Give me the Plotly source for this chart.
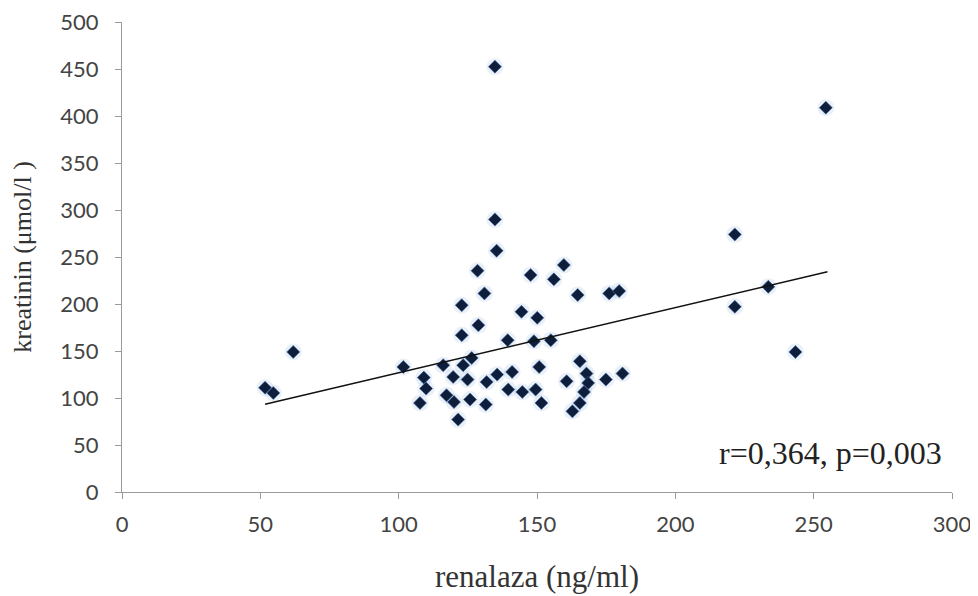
import plotly.graph_objects as go

# renalaza (ng/ml)
renalaza = [134.8, 254.4, 135.4, 128.5, 147.7, 159.7, 156.1, 131.0, 164.7, 176.1, 179.7,
            122.8, 144.4, 150.1, 128.8, 122.8, 139.4, 148.9, 155.0, 101.7, 116.1, 126.4,
            123.3, 165.5, 109.1, 109.9, 119.7, 124.9, 131.8, 135.6, 141.0, 150.8, 160.7,
            167.9, 168.5, 174.9, 180.9, 107.7, 117.3, 120.0, 125.8, 131.5, 139.6, 144.7,
            149.5, 151.6, 167.0, 162.8, 165.5, 121.5, 51.7, 54.7, 61.9, 221.5, 221.5,
            233.6, 243.4, 134.8]
# kreatinin (umol/l)
kreatinin = [452.5, 408.8, 256.7, 235.4, 230.8, 241.5, 226.2, 211.3, 209.5, 211.3, 213.7,
             198.8, 191.7, 185.3, 177.5, 166.8, 161.5, 160.4, 161.5, 133.0, 134.9, 142.6,
             134.9, 139.1, 121.7, 110.0, 122.4, 119.6, 117.0, 124.9, 127.7, 133.0, 117.8,
             126.0, 116.0, 119.6, 126.0, 94.7, 102.9, 95.7, 98.3, 93.0, 109.0, 106.4,
             109.0, 94.7, 106.4, 85.8, 94.7, 77.0, 111.0, 105.3, 149.0, 274.0, 197.0,
             218.3, 149.0, 290.0]

trend_x = [51.7, 255.0]
trend_y = [93.3, 234.3]

x_ticks = [0, 50, 100, 150, 200, 250, 300]
y_ticks = [0, 50, 100, 150, 200, 250, 300, 350, 400, 450, 500]

fig = go.Figure()
# soft halo to mimic blurred markers
fig.add_trace(go.Scatter(x=renalaza, y=kreatinin, mode="markers",
                         marker=dict(symbol="circle", size=17, color="rgba(120,160,210,0.16)",
                                     line=dict(width=0)),
                         hoverinfo="skip", showlegend=False))
fig.add_trace(go.Scatter(x=renalaza, y=kreatinin, mode="markers",
                         marker=dict(symbol="diamond", size=10, color="#0d1d3a",
                                     line=dict(width=1, color="rgba(60,100,160,0.55)")),
                         showlegend=False))
fig.add_trace(go.Scatter(x=trend_x, y=trend_y, mode="lines",
                         line=dict(color="#111111", width=1.5), showlegend=False,
                         hoverinfo="skip"))

fig.add_annotation(x=0.99, y=0.084, xref="paper", yref="paper",
                   text="r=0,364, p=0,003", showarrow=False,
                   xanchor="right", yanchor="middle",
                   font=dict(family="Liberation Serif", size=32, color="#222222"))

axis_common = dict(showgrid=False, zeroline=False, showline=True, linecolor="#9a9a9a",
                   linewidth=1.2, ticks="outside", ticklen=6, tickcolor="#9a9a9a",
                   automargin=False, ticklabeloverflow="allow",
                   tickfont=dict(family="Lato", size=22, color="#444444"))

fig.update_xaxes(range=[0, 300], tickvals=x_ticks, ticklabelstandoff=6,
                 title=dict(text="renalaza (ng/ml)", standoff=29,
                            font=dict(family="Liberation Serif", size=31, color="#333333")),
                 **axis_common)
fig.update_yaxes(range=[0, 500], tickvals=y_ticks, ticklabelstandoff=12,
                 title=dict(text="kreatinin (μmol/l )", standoff=27,
                            font=dict(family="Liberation Serif", size=26, color="#333333")),
                 **axis_common)

fig.update_layout(width=970, height=588, plot_bgcolor="white", paper_bgcolor="white",
                  margin=dict(l=114, r=26, t=14, b=104))

fig.write_html("out.html")
